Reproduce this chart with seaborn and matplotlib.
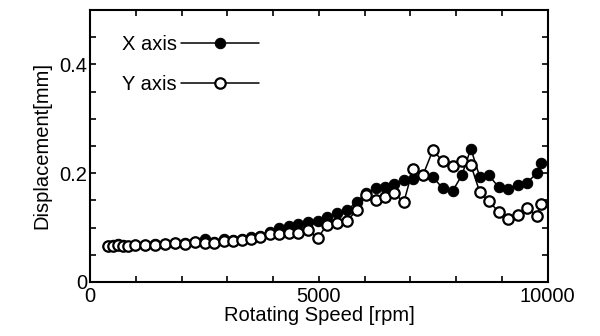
import numpy as np
import pandas as pd
import seaborn as sns
import matplotlib.pyplot as plt
from matplotlib.ticker import MultipleLocator

# rotating speed [rpm]
speed = [393, 502, 611, 721, 830, 983, 1201, 1419, 1638, 1856, 2074, 2293, 2511,
         2707, 2926, 3122, 3319, 3515, 3712, 3930, 4127, 4345, 4541, 4760, 4978,
         5175, 5393, 5611, 5830, 6026, 6245, 6441, 6638, 6856, 7052, 7271, 7489,
         7707, 7926, 8122, 8319, 8515, 8712, 8930, 9127, 9345, 9541, 9760, 9847]

# displacement [mm]
x_axis = [0.066, 0.068, 0.069, 0.067, 0.066, 0.067, 0.068, 0.070, 0.070, 0.072,
          0.071, 0.074, 0.078, 0.073, 0.078, 0.077, 0.078, 0.082, 0.085, 0.092,
          0.099, 0.103, 0.107, 0.110, 0.112, 0.119, 0.127, 0.132, 0.147, 0.163,
          0.172, 0.175, 0.180, 0.188, 0.190, 0.196, 0.193, 0.172, 0.168, 0.196,
          0.245, 0.193, 0.196, 0.174, 0.171, 0.178, 0.182, 0.200, 0.218]
y_axis = [0.066, 0.066, 0.067, 0.066, 0.066, 0.067, 0.068, 0.068, 0.070, 0.071,
          0.070, 0.074, 0.071, 0.072, 0.076, 0.076, 0.077, 0.079, 0.083, 0.088,
          0.088, 0.090, 0.090, 0.095, 0.081, 0.105, 0.108, 0.112, 0.132, 0.160,
          0.150, 0.156, 0.163, 0.147, 0.207, 0.196, 0.242, 0.222, 0.213, 0.222,
          0.215, 0.165, 0.149, 0.128, 0.116, 0.123, 0.136, 0.121, 0.143]

sns.set_style('ticks')
plt.rcParams['font.family'] = ['Liberation Sans', 'DejaVu Sans']
plt.rcParams['text.color'] = 'black'
plt.rcParams['axes.labelcolor'] = 'black'
plt.rcParams['xtick.color'] = 'black'
plt.rcParams['ytick.color'] = 'black'

df = pd.DataFrame({'speed': speed, 'X axis': x_axis, 'Y axis': y_axis})

fig = plt.figure(figsize=(6, 3.36), dpi=100)
ax = fig.add_axes([0.15, 0.161, 0.763, 0.809])

sns.lineplot(data=df, x='speed', y='X axis', ax=ax, color='black', lw=1.1,
             marker='o', markersize=7.5, markerfacecolor='black',
             markeredgecolor='black', label='X axis', sort=False)
sns.lineplot(data=df, x='speed', y='Y axis', ax=ax, color='black', lw=1.1,
             marker='o', markersize=7.5, markerfacecolor='white',
             markeredgecolor='black', markeredgewidth=1.6, label='Y axis', sort=False)

ax.set_xlim(0, 10000)
ax.set_ylim(0, 0.5)
ax.xaxis.set_minor_locator(MultipleLocator(1000))
ax.yaxis.set_minor_locator(MultipleLocator(0.05))
ax.set_xticks([0, 5000, 10000], ['0', '5000', '10000'])
ax.set_yticks([0, 0.2, 0.4], ['0', '0.2', '0.4'])
ax.tick_params(which='both', direction='in', top=True, right=True,
               labelsize=14.5, width=1.2, length=4)
ax.tick_params(axis='x', pad=4)
ax.tick_params(axis='y', pad=2)
for s in ax.spines.values():
    s.set_linewidth(1.5)
    s.set_color('black')

ax.set_xlabel('Rotating Speed [rpm]', fontsize=14.5, labelpad=0)
ax.set_ylabel('Displacement[mm]', fontsize=14.5, labelpad=6)

ax.legend(loc='upper left', bbox_to_anchor=(0.03, 0.975), markerfirst=False,
          frameon=False, fontsize=14.5, handlelength=3.9, labelspacing=1.05,
          handletextpad=0.2)

fig.savefig('out.png', dpi=100)
